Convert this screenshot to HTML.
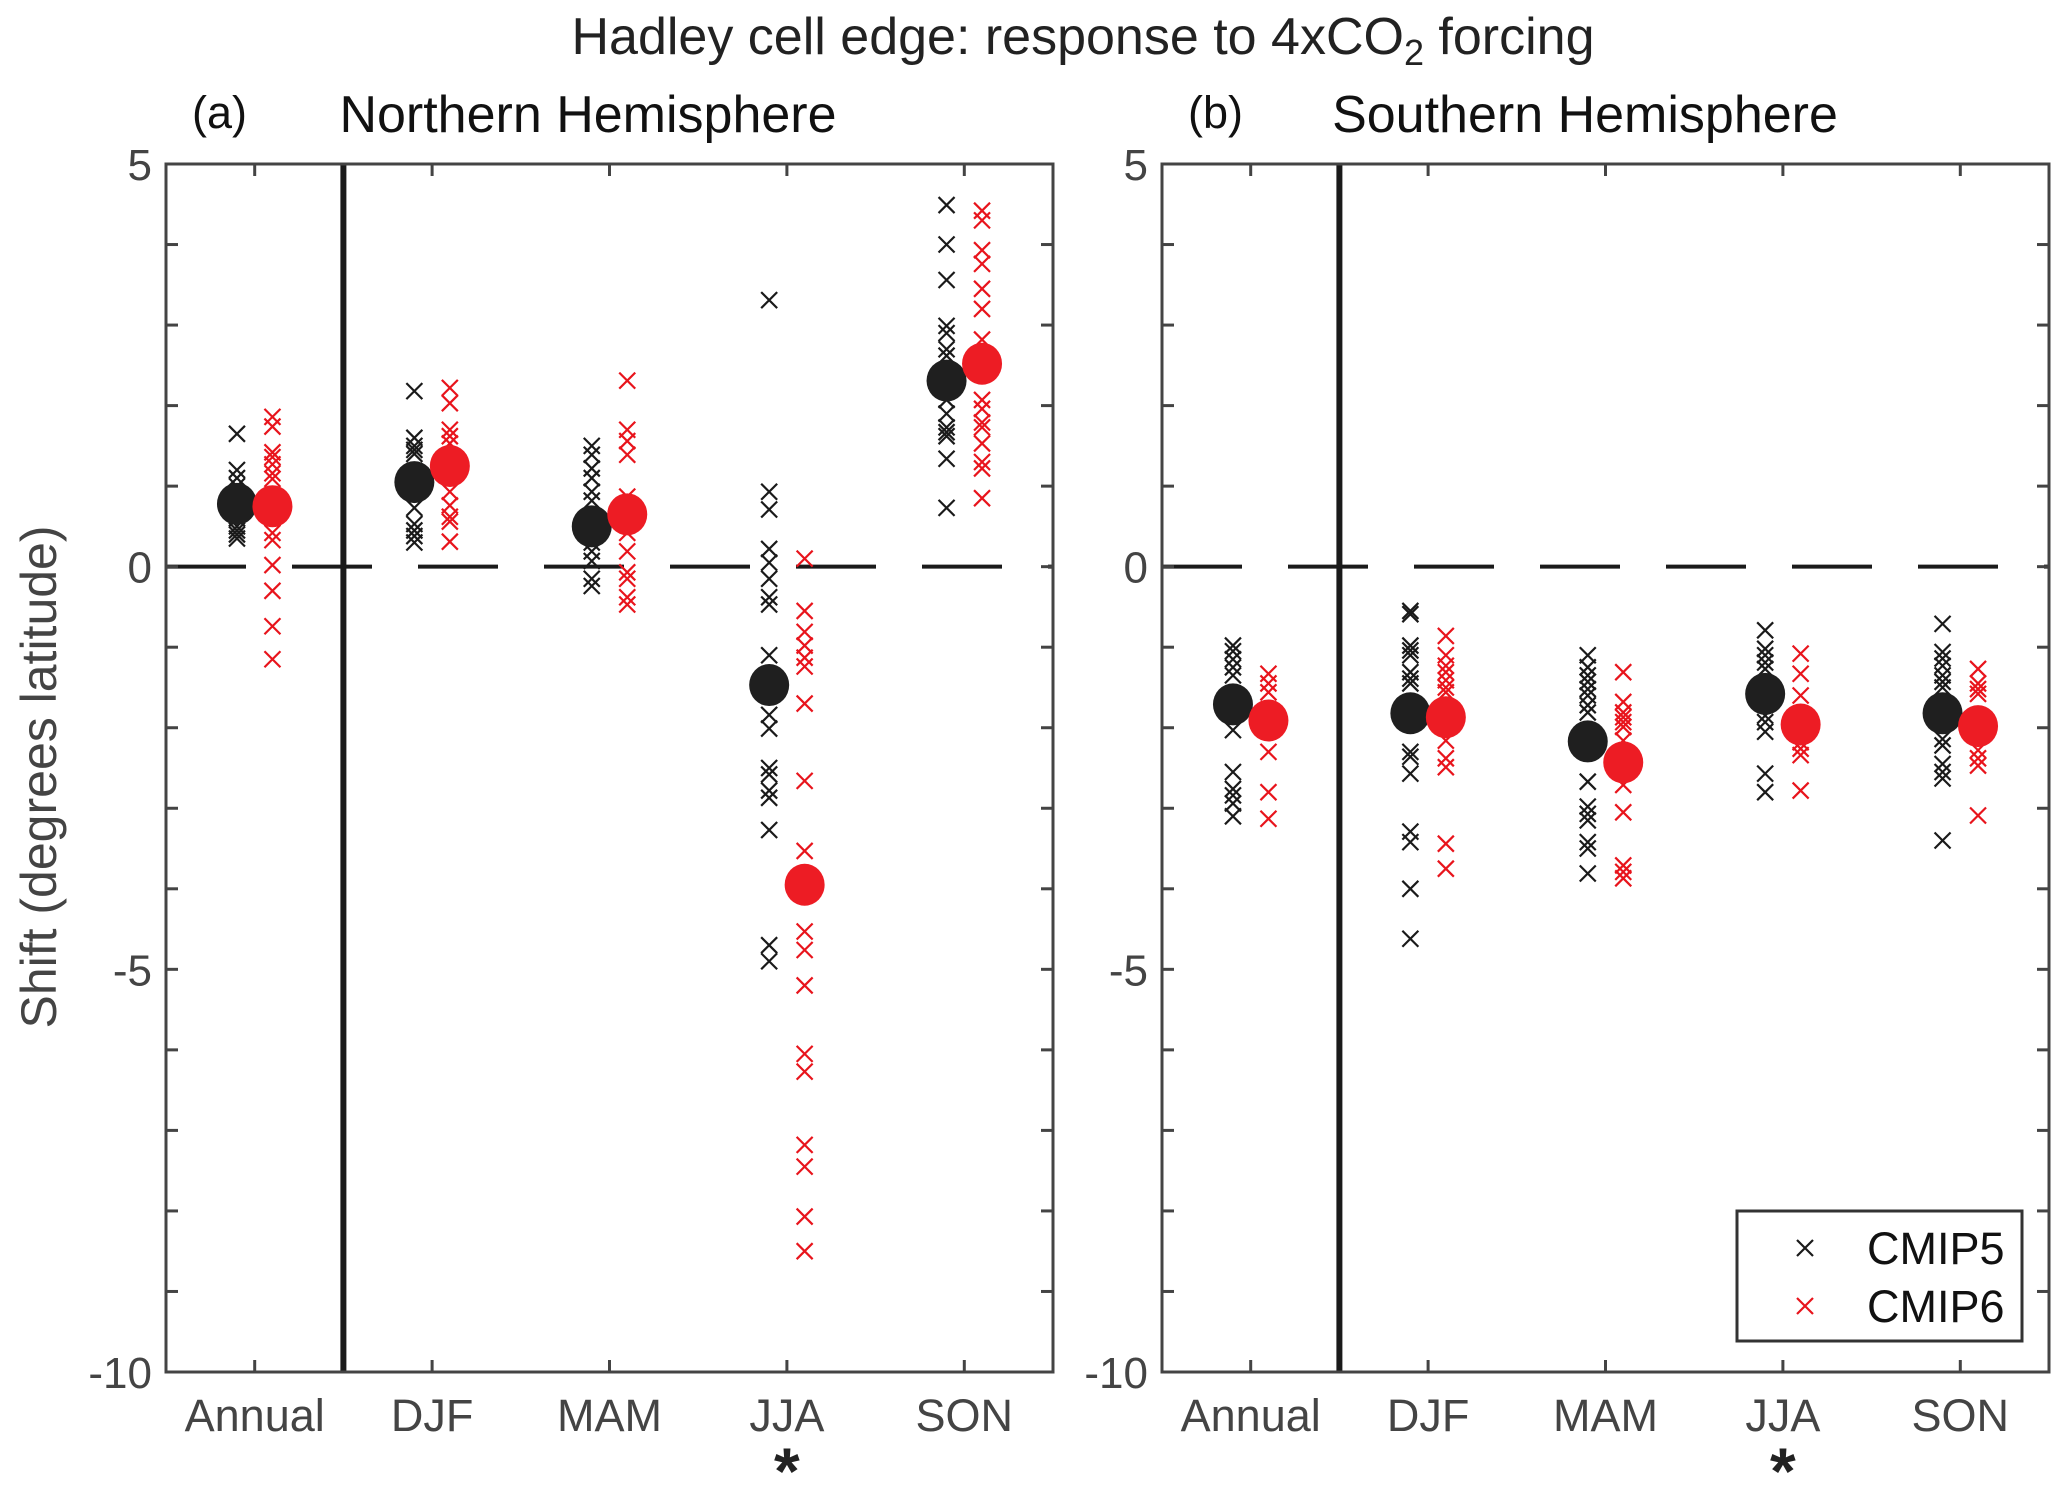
<!DOCTYPE html>
<html><head><meta charset="utf-8"><style>
html,body{margin:0;padding:0;background:#fff;}
svg{display:block;font-family:"Liberation Sans",Arial,sans-serif;}
</style></head><body>
<svg id="chart" width="2067" height="1489" viewBox="0 0 2067 1489">
<text x="1083" y="54" font-size="52" text-anchor="middle" fill="#222">Hadley cell edge: response to 4xCO<tspan font-size="36" dy="11">2</tspan><tspan dy="-11"> forcing</tspan></text>
<text x="0" y="0" font-size="50" fill="#444" text-anchor="middle" transform="translate(56,777) rotate(-90)">Shift (degrees latitude)</text>
</svg>
<script>
const categories = ["Annual","DJF","MAM","JJA","SON"];
const yTicks = [5,0,-5,-10];
const nhC5 = [
 [1.65,1.2,1.1,1.0,0.9,0.8,0.7,0.6,0.5,0.45,0.4,0.35],
 [2.18,1.6,1.5,1.45,1.4,1.16,0.73,0.53,0.45,0.38,0.3],
 [1.5,1.39,1.22,1.1,0.93,0.82,0.3,0.19,0.07,-0.15,-0.24],
 [3.31,0.93,0.71,0.22,0.05,-0.15,-0.38,-0.47,-1.1,-1.84,-2.01,-2.5,-2.58,-2.78,-2.87,-3.27,-4.7,-4.9],
 [4.49,4.0,3.56,2.99,2.9,2.7,2.62,2.07,1.9,1.73,1.67,1.62,1.34,0.73]];
const nhC6 = [
 [1.86,1.74,1.42,1.36,1.27,1.16,1.09,0.42,0.33,0.02,-0.3,-0.74,-1.15],
 [2.22,2.03,1.7,1.62,1.53,1.16,0.93,0.76,0.62,0.56,0.31],
 [2.31,1.7,1.56,1.39,0.87,0.42,0.19,-0.07,-0.15,-0.38,-0.47],
 [0.1,-0.55,-0.81,-0.98,-1.13,-1.24,-1.7,-2.66,-3.53,-4.53,-4.76,-5.2,-6.05,-6.27,-7.18,-7.45,-8.07,-8.5],
 [4.42,4.3,3.93,3.76,3.45,3.2,2.82,2.07,1.96,1.79,1.73,1.53,1.3,1.22,0.85]];
const nhMeanC5 = [0.78,1.05,0.5,-1.47,2.31];
const nhMeanC6 = [0.75,1.25,0.65,-3.95,2.52];
const shC5 = [
 [-0.98,-1.05,-1.15,-1.25,-1.35,-2.03,-2.55,-2.76,-2.84,-2.94,-3.1],
 [-0.55,-0.59,-0.98,-1.04,-1.1,-1.31,-1.39,-1.45,-2.3,-2.36,-2.57,-3.29,-3.42,-4.0,-4.62],
 [-1.1,-1.25,-1.35,-1.43,-1.52,-1.6,-1.72,-1.81,-2.67,-2.98,-3.07,-3.15,-3.42,-3.5,-3.81],
 [-0.79,-1.02,-1.1,-1.19,-1.27,-1.85,-1.93,-2.05,-2.57,-2.8],
 [-0.71,-1.06,-1.14,-1.23,-1.35,-1.43,-1.5,-2.14,-2.22,-2.45,-2.55,-2.63,-3.4]];
const shC6 = [
 [-1.33,-1.45,-1.56,-2.3,-2.8,-3.13],
 [-0.86,-1.1,-1.23,-1.31,-1.41,-1.5,-1.56,-2.16,-2.38,-2.49,-3.44,-3.75],
 [-1.31,-1.68,-1.81,-1.87,-1.93,-1.99,-2.16,-2.71,-3.05,-3.71,-3.79,-3.87],
 [-1.08,-1.33,-1.6,-2.18,-2.26,-2.34,-2.78],
 [-1.27,-1.45,-1.52,-1.58,-2.28,-2.38,-2.47,-3.09]];
const shMeanC5 = [-1.71,-1.82,-2.17,-1.58,-1.82];
const shMeanC6 = [-1.91,-1.87,-2.43,-1.96,-1.98];

const svg = document.getElementById('chart');
const NS = 'http://www.w3.org/2000/svg';
function mk(tag, attrs, parent){const e=document.createElementNS(NS,tag);for(const k in attrs)e.setAttribute(k,attrs[k]);(parent||svg).appendChild(e);return e;}
const TOP=164, BOT=1372, YMAX=5, YMIN=-10;
function yScale(v){return TOP+(YMAX-v)/(YMAX-YMIN)*(BOT-TOP);}

function panel(id, x0, x1, label, title, titleX, c5, c6, m5, m6, star){
  const g = mk('g',{});
  
  
  const xs = v => x0 + (v-0.5)/5*(x1-x0);
  const z = mk('line',{x1:x0,x2:x1,y1:yScale(0),y2:yScale(0),stroke:'#1a1a1a','stroke-width':4,'stroke-dasharray':'80 46'},g);
  
  
  const d = mk('line',{x1:xs(1.5),x2:xs(1.5),y1:TOP,y2:BOT,stroke:'#1a1a1a','stroke-width':6},g);
  
  
  for(let v=YMIN; v<=YMAX; v++){
    const y=yScale(v);
    mk('line',{x1:x0,x2:x0+12,y1:y,y2:y,stroke:'#444','stroke-width':3},g);
    mk('line',{x1:x1-12,x2:x1,y1:y,y2:y,stroke:'#444','stroke-width':3},g);
  }
  yTicks.forEach(v=>{
    const t = mk('text',{x:x0-14,y:yScale(v)+16,'font-size':44,'text-anchor':'end',fill:'#444'},g);
    t.textContent = v;
    
    
  });
  categories.forEach((c,i)=>{
    const x = xs(i+1);
    mk('line',{x1:x,x2:x,y1:TOP,y2:TOP+12,stroke:'#444','stroke-width':3},g);
    mk('line',{x1:x,x2:x,y1:BOT-12,y2:BOT,stroke:'#444','stroke-width':3},g);
    const t = mk('text',{x:x,y:1431,'font-size':45,'text-anchor':'middle',fill:'#444'},g);
    t.textContent = c;
    
    
  });
  const st = mk('text',{x:xs(star),y:1494,'font-size':66,'font-weight':'bold','text-anchor':'middle',fill:'#222'},g);
  st.textContent='*';
  
  
  function cross(x,y,col){
    const p = mk('path',{d:`M${x-8},${y-8}L${x+8},${y+8}M${x-8},${y+8}L${x+8},${y-8}`,stroke:col,'stroke-width':2.2,fill:'none'},g);
    
    
  }
  categories.forEach((c,i)=>{
    const xa = xs(i+1-0.1), xb = xs(i+1+0.1);
    c5[i].forEach(v=>cross(xa,yScale(v),'#1a1a1a'));
    c6[i].forEach(v=>cross(xb,yScale(v),'#e8141c'));
    const a = mk('ellipse',{cx:xa,cy:yScale(m5[i]),rx:20,ry:21,fill:'#1f1f1f'},g);
    
    
    const b = mk('ellipse',{cx:xb,cy:yScale(m6[i]),rx:20,ry:21,fill:'#ed1c24'},g);
    
    
  });
  const fr = mk('rect',{x:x0,y:TOP,width:x1-x0,height:BOT-TOP,fill:'none',stroke:'#444','stroke-width':3},g);
  
  
  const l = mk('text',{x:x0+26,y:128,'font-size':45,fill:'#111'},g);
  l.textContent = label;
  
  
  const tt = mk('text',{x:titleX,y:132,'font-size':52,'text-anchor':'middle',fill:'#111'},g);
  tt.textContent = title;
  
  
}
panel('northern', 166, 1053, '(a)', 'Northern Hemisphere', 588, nhC5, nhC6, nhMeanC5, nhMeanC6, 4);
panel('southern', 1162, 2049, '(b)', 'Southern Hemisphere', 1585, shC5, shC6, shMeanC5, shMeanC6, 4);

const lg = mk('g',{});


mk('rect',{x:1737,y:1211,width:285,height:130,fill:'#fff',stroke:'#333','stroke-width':3},lg);
[['CMIP5','#1a1a1a',1240],['CMIP6','#e8141c',1298]].forEach(([n,c,y])=>{
  const e = mk('path',{d:`M1797,${y}L1813,${y+16}M1797,${y+16}L1813,${y}`,stroke:c,'stroke-width':2.2},lg);
  
  
  const t = mk('text',{x:1867,y:y+24,'font-size':45,fill:'#111'},lg);
  t.textContent = n;
  
  
});
</script>
</body></html>
